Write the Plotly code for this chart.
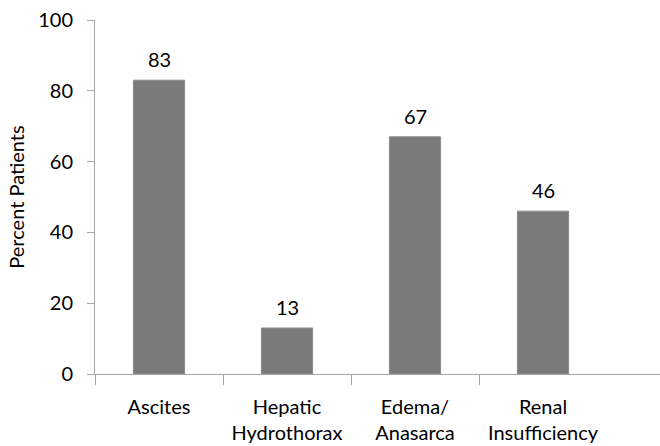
import plotly.graph_objects as go

categories = ["Ascites", "Hepatic<br>Hydrothorax", "Edema/<br>Anasarca", "Renal<br>Insufficiency"]
values = [83, 13, 67, 46]
y_ticks = [0, 20, 40, 60, 80, 100]

FONT = "Lato"
AX = "#a6a6a6"
xpos = list(range(len(categories)))

fig = go.Figure()
fig.add_trace(go.Bar(
    x=xpos, y=values, width=0.4,
    marker=dict(color="#7a7a7a", line=dict(color="#8c8c8c", width=1)),
    hoverinfo="skip",
))
for xi, v in zip(xpos, values):
    fig.add_annotation(x=xi, y=v, text=str(v), showarrow=False,
                       yanchor="bottom", yshift=7,
                       font=dict(family=FONT, size=20, color="#000000"))

fig.update_layout(
    width=660, height=446,
    margin=dict(l=95, r=0, t=20, b=72),
    paper_bgcolor="white", plot_bgcolor="white",
    showlegend=False,
    font=dict(family=FONT, size=20, color="#000000"),
    xaxis=dict(
        range=[-0.5, 3.914], tickvals=xpos, ticktext=categories,
        ticks="", showgrid=False, zeroline=False,
        showline=True, linecolor=AX, linewidth=1,
        tickfont=dict(family=FONT, size=20, color="#000000"),
        ticklabelstandoff=15,
        minor=dict(tickvals=[-0.5, 0.5, 1.5, 2.5], ticks="outside",
                   ticklen=10, tickcolor=AX, tickwidth=1, showgrid=False),
    ),
    yaxis=dict(
        range=[0, 100], tickvals=y_ticks, ticks="outside", ticklen=7,
        tickcolor=AX, showgrid=False, zeroline=False,
        showline=True, linecolor=AX, linewidth=1,
        tickfont=dict(family=FONT, size=20, color="#000000"),
        ticklabelstandoff=10,
        title=dict(text="Percent Patients", font=dict(family=FONT, size=20, color="#000000"), standoff=8),
    ),
)

fig.write_html("out.html")
